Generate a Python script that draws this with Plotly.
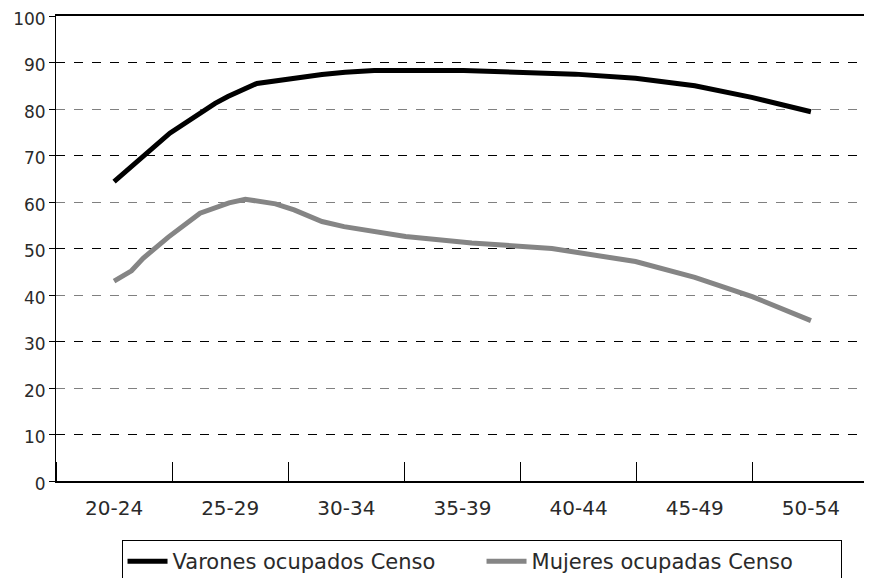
import plotly.graph_objects as go

# grupos de edad (eje x) y posición de cada punto en años de edad
grupos = ["20-24", "25-29", "30-34", "35-39", "40-44", "45-49", "50-54"]
centros = [22, 27, 32, 37, 42, 47, 52]

edad_varones = [22.0, 24.4, 26.35, 26.9, 28.15, 29.65, 30.95, 31.95, 33.2,
                37.05, 39.55, 41.85, 44.45, 47.0, 49.45, 52.0]
varones = [64.4, 74.8, 81.2, 82.7, 85.5, 86.6, 87.4, 87.9, 88.3,
           88.3, 87.8, 87.5, 86.6, 85.0, 82.5, 79.4]

edad_mujeres = [22.0, 22.75, 23.25, 24.35, 25.7, 26.95, 27.65, 28.95, 29.75,
                30.95, 31.9, 34.55, 37.4, 39.45, 40.85, 44.45, 47.0, 49.5, 52.0]
mujeres = [43.0, 45.2, 47.9, 52.5, 57.6, 59.8, 60.6, 59.6, 58.3,
           55.8, 54.7, 52.6, 51.2, 50.5, 50.0, 47.2, 43.8, 39.6, 34.5]

FONT = "DejaVu Sans"

fig = go.Figure()
# traza vacía para que el eje y principal (etiquetas + rejilla gris) se dibuje
fig.add_trace(go.Scatter(x=[None], y=[None], mode="lines", showlegend=False, hoverinfo="skip"))
fig.add_trace(go.Scatter(x=edad_varones, y=varones, mode="lines", name="Varones ocupados Censo",
                         line=dict(color="black", width=5), yaxis="y2"))
fig.add_trace(go.Scatter(x=edad_mujeres, y=mujeres, mode="lines", name="Mujeres ocupadas Censo",
                         line=dict(color="#858585", width=5), yaxis="y2"))

fig.update_layout(
    width=872, height=578,
    # la página html añade 8px de margen al body
    margin=dict(l=48, r=11, t=8, b=105, autoexpand=False),
    paper_bgcolor="white", plot_bgcolor="white",
    font=dict(family=FONT, size=17, color="#2a2a2a"),
    xaxis=dict(range=[19.5, 54.5], tickvals=centros, ticktext=grupos, ticks="",
               ticklabelstandoff=8, tickfont=dict(size=20), automargin=False,
               showgrid=False, zeroline=False, showline=True, linecolor="black", linewidth=1.5,
               mirror=True,
               minor=dict(ticks="inside", tick0=24.5, dtick=5, ticklen=19, tickcolor="black",
                          tickwidth=1, showgrid=False)),
    # rejilla gris en las decenas pares
    yaxis=dict(range=[0, 100], tickvals=list(range(0, 101, 10)), ticks="outside", ticklen=6,
               tickcolor="black", showgrid=True, gridcolor="#808080", griddash="dash", gridwidth=1,
               zeroline=False, showline=True, linecolor="black", linewidth=1, mirror=True,
               automargin=False, ticklabeloverflow="allow", ticklabelshift=3),
    # rejilla negra en las decenas impares, con las líneas encima
    yaxis2=dict(range=[0, 100], overlaying="y", tickvals=[10, 30, 50, 70, 90], showticklabels=False,
                ticks="", showgrid=True, gridcolor="black", griddash="dash", gridwidth=1,
                zeroline=False, showline=False, automargin=False),
    showlegend=True,
    legend=dict(orientation="h", x=0.5234, xanchor="center", y=-0.127, yanchor="top",
                bordercolor="black", borderwidth=1, font=dict(size=21),
                entrywidth=304, itemwidth=40, tracegroupgap=0),
)

fig.write_html("out.html")
